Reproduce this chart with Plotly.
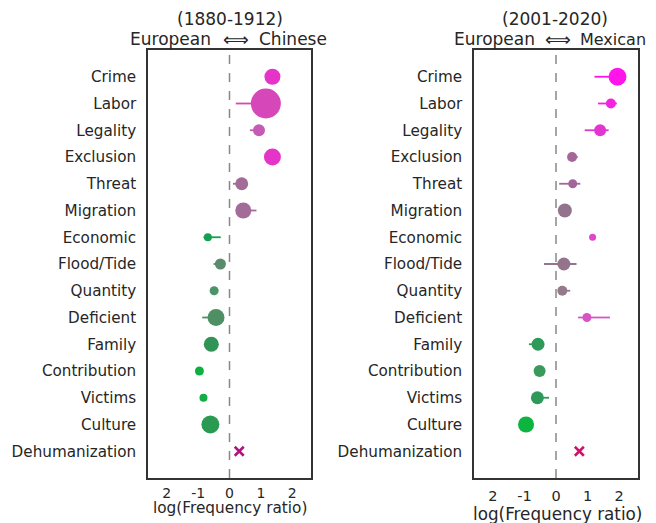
import plotly.graph_objects as go

categories = ["Crime", "Labor", "Legality", "Exclusion", "Threat", "Migration",
              "Economic", "Flood/Tide", "Quantity", "Deficient", "Family",
              "Contribution", "Victims", "Culture", "Dehumanization"]

# Left panel: European vs Chinese (1880-1912)
left_x = [1.37, 1.16, 0.94, 1.37, 0.39, 0.44, -0.69, -0.29, -0.49, -0.43, -0.58, -0.96, -0.83, -0.61, 0.31]
left_err_minus = [0.0, 0.96, 0.29, 0.0, 0.28, 0.0, 0.14, 0.22, 0.0, 0.44, 0.0, 0.0, 0.0, 0.0, 0.0]
left_err_plus = [0.0, 0.0, 0.0, 0.0, 0.0, 0.42, 0.41, 0.0, 0.0, 0.0, 0.0, 0.0, 0.0, 0.0, 0.0]
left_size = [16, 30, 12, 17, 13, 16, 8, 11, 9, 17, 15, 9, 8, 18, 9]
left_color = ["#e535c8", "#d648b9", "#c55bb5", "#e535c8", "#a36b98", "#a36b98",
              "#14a050", "#5b8a6c", "#4a9466", "#4e8f64", "#2f9455", "#0fb040",
              "#13ad45", "#2a9a52", "#b0127e"]

# Right panel: European vs Mexican (2001-2020)
right_x = [1.95, 1.74, 1.40, 0.51, 0.53, 0.28, 1.16, 0.25, 0.20, 0.98, -0.57, -0.52, -0.59, -0.95, 0.74]
right_err_minus = [0.73, 0.41, 0.49, 0.0, 0.43, 0.0, 0.0, 0.63, 0.0, 0.28, 0.29, 0.0, 0.0, 0.0, 0.0]
right_err_plus = [0.0, 0.19, 0.27, 0.18, 0.24, 0.0, 0.0, 0.40, 0.25, 0.73, 0.0, 0.0, 0.37, 0.0, 0.0]
right_size = [18, 10, 12, 10, 9, 14, 7, 13, 10, 9, 13, 12, 13, 16, 9]
right_color = ["#ff14ea", "#f224e0", "#e336d0", "#a3679a", "#a3659c", "#94748c",
               "#e046cc", "#94748c", "#947a8c", "#d655c4", "#2e9a5a", "#3a9a5c",
               "#2e9a5a", "#0db440", "#d0106a"]

xtick_vals = [-2, -1, 0, 1, 2]
xtick_text = ["2", "-1", "0", "1", "2"]

W, H = 656, 523
OFF = 8  # page body margin
FONT = "DejaVu Sans"
TXT = "#262626"


def px(x):
    return (x - OFF) / W


def py(y):
    return 1 - (y - OFF) / H


fig = go.Figure()


def add_panel(xs, em, ep, sizes, colors, xa, ya):
    n = len(categories)
    for i in range(n):
        is_x = categories[i] == "Dehumanization"
        fig.add_trace(go.Scatter(
            x=[xs[i]], y=[i], xaxis=xa, yaxis=ya, mode="markers",
            showlegend=False,
            marker=dict(
                size=sizes[i], color=colors[i],
                symbol="x-thin" if is_x else "circle",
                line=dict(width=2.5 if is_x else 0, color=colors[i]),
            ),
            error_x=dict(type="data", symmetric=False,
                         array=[ep[i]], arrayminus=[em[i]],
                         color=colors[i], thickness=1.8, width=0),
        ))


add_panel(left_x, left_err_minus, left_err_plus, left_size, left_color, "x", "y")
add_panel(right_x, right_err_minus, right_err_plus, right_size, right_color, "x2", "y2")

axis_common = dict(showline=True, mirror=True, linecolor="#333333", linewidth=1.5,
                   showgrid=False, zeroline=False, ticks="", automargin=False,
                   fixedrange=True)
yfont = dict(family=FONT, size=15.2, color=TXT)
xfont = dict(family=FONT, size=14, color=TXT)
xfont2 = dict(family=FONT, size=14.5, color=TXT)

fig.update_layout(
    width=W, height=H,
    margin=dict(l=0, r=0, t=0, b=0, autoexpand=False),
    paper_bgcolor="white", plot_bgcolor="white",
    xaxis=dict(domain=[px(148), px(311)], range=[-2.6, 2.6], anchor="y",
               tickvals=xtick_vals, ticktext=xtick_text, tickfont=xfont,
               ticklabelstandoff=1, **axis_common),
    yaxis=dict(domain=[py(478), py(50)], range=[15, -1], anchor="x",
               tickvals=list(range(len(categories))), ticktext=categories,
               tickfont=yfont, ticklabelstandoff=7, **axis_common),
    xaxis2=dict(domain=[px(474), px(638)], range=[-2.6, 2.6], anchor="y2",
                tickvals=xtick_vals, ticktext=xtick_text, tickfont=xfont2,
                ticklabelstandoff=4, **axis_common),
    yaxis2=dict(domain=[py(478), py(50)], range=[15, -1], anchor="x2",
                tickvals=list(range(len(categories))), ticktext=categories,
                tickfont=yfont, ticklabelstandoff=7, **axis_common),
)

# dashed zero lines
for xr, yr in (("x", "y"), ("x2", "y2")):
    fig.add_shape(type="line", xref=xr, yref=yr + " domain", x0=0, x1=0, y0=0, y1=1,
                  line=dict(color="#888888", width=1.5, dash="dash"), layer="below")


def text(x, y, s, size, xanchor="center"):
    fig.add_annotation(x=px(x), y=py(y), xref="paper", yref="paper", text=s,
                       showarrow=False, xanchor=xanchor, yanchor="middle",
                       font=dict(family=FONT, size=size, color=TXT))


# titles
text(229.5, 19, "(1880-1912)", 17)
text(213, 39, "European", 17, "right")
text(235.5, 39, "\u27fa", 18)
text(257, 39, "Chinese", 17, "left")

text(555, 19, "(2001-2020)", 17)
text(537, 39, "European", 17, "right")
text(557.5, 39, "\u27fa", 18)
text(578, 39, "Mexican", 16, "left")

# x-axis titles
text(229.5, 508, "log(Frequency ratio)", 15.3)
text(557, 513.5, "log(Frequency ratio)", 16.8)

fig.write_html("out.html")
